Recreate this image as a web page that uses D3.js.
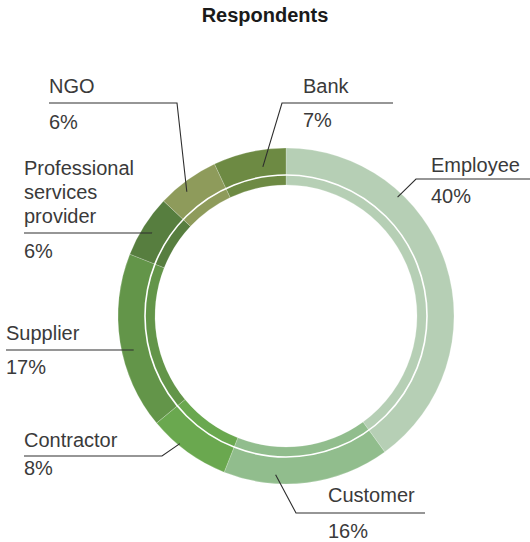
<!DOCTYPE html>
<html>
<head>
<meta charset="utf-8">
<script src="https://cdn.jsdelivr.net/npm/d3@7"></script>
<style>
  html, body { margin: 0; padding: 0; background: #fff; }
  svg { display: block; }
  text { font-family: "Liberation Sans", Arial, Helvetica, sans-serif; }
</style>
</head>
<body>
<svg id="chart" width="530" height="542"></svg>
<script>
// Respondent groups, clockwise from 12 o'clock
const categories = ["Employee", "Customer", "Contractor", "Supplier", "Professional services provider", "NGO", "Bank"];
const shares = [40, 16, 8, 17, 6, 6, 7];
const colors = ["#b6cfb5", "#91bd8d", "#6aa84f", "#639549", "#577e3f", "#8e9b5b", "#6d8a43"];

// Label placement: text block, rule under the name, and where the leader meets the ring
const labelLayout = {
  "Employee":   { lines: ["Employee"], x: 431, y: 172, ruleY: 179, ruleX: [416, 530], elbow: "left",  pctY: 203, frac: 0.30, r: 163 },
  "Customer":   { lines: ["Customer"], x: 328, y: 502, ruleY: 513, ruleX: [296, 425], elbow: "left",  pctY: 538, frac: 0.69, r: 159 },
  "Contractor": { lines: ["Contractor"], x: 24, y: 447, ruleY: 456, ruleX: [24, 162], elbow: "right", pctY: 475, frac: 0.63, r: 166 },
  "Supplier":   { lines: ["Supplier"], x: 6, y: 340, ruleY: 350, ruleX: [6, 133], elbow: "right", pctY: 374, frac: 0.44, r: 157 },
  "Professional services provider": { lines: ["Professional", "services", "provider"], x: 24, y: 175, ruleY: 233, ruleX: [24, 152], elbow: "right", pctY: 258, frac: 0.47, r: 158 },
  "NGO":        { lines: ["NGO"], x: 49, y: 93, ruleY: 103, ruleX: [49, 177], elbow: "right", pctY: 129, frac: 0.38, r: 159 },
  "Bank":       { lines: ["Bank"], x: 303, y: 93, ruleY: 103, ruleX: [282, 393], elbow: "left", pctY: 127, frac: 0.65, r: 151 }
};

const svg = d3.select("#chart");
const cx = 286, cy = 316;
const outerR = 168, innerR = 131, splitR = 141;
const textColor = "#3a3a3a";

svg.append("text")
  .attr("x", 265).attr("y", 22)
  .attr("text-anchor", "middle")
  .attr("font-size", 20).attr("font-weight", "bold")
  .attr("fill", "#1a1a1a")
  .text("Respondents");

const data = categories.map((c, i) => ({ name: c, value: shares[i], color: colors[i] }));

const pie = d3.pie().value(d => d.value).sort(null);
const arcs = pie(data);
const arc = d3.arc().innerRadius(innerR).outerRadius(outerR);

const g = svg.append("g").attr("transform", `translate(${cx},${cy})`);

g.selectAll("path.slice")
  .data(arcs)
  .join("path")
  .attr("class", "slice")
  .attr("d", arc)
  .attr("fill", d => d.data.color)
  .attr("stroke", "rgba(255,255,255,0.35)")
  .attr("stroke-width", 0.6);

// thin white ring separating the outer band from the inner band
g.append("circle")
  .attr("r", splitR)
  .attr("fill", "none")
  .attr("stroke", "#fff")
  .attr("stroke-width", 1.6);

// labels with rules and leader lines
const labels = svg.append("g");
arcs.forEach(a => {
  const L = labelLayout[a.data.name];
  const ang = a.startAngle + (a.endAngle - a.startAngle) * L.frac;
  const px = cx + L.r * Math.sin(ang);
  const py = cy - L.r * Math.cos(ang);
  const ex = L.elbow === "left" ? L.ruleX[0] : L.ruleX[1];
  const other = L.elbow === "left" ? L.ruleX[1] : L.ruleX[0];

  labels.append("path")
    .attr("d", d3.line()([[other, L.ruleY], [ex, L.ruleY], [px, py]]))
    .attr("fill", "none")
    .attr("stroke", "#2e2e2e")
    .attr("stroke-width", 1.1);

  L.lines.forEach((t, i) => {
    labels.append("text")
      .attr("x", L.x).attr("y", L.y + i * 24)
      .attr("font-size", 20)
      .attr("fill", textColor)
      .text(t);
  });
  labels.append("text")
    .attr("x", L.x).attr("y", L.pctY)
    .attr("font-size", 20)
    .attr("fill", textColor)
    .text(a.data.value + "%");
});
</script>
</body>
</html>
